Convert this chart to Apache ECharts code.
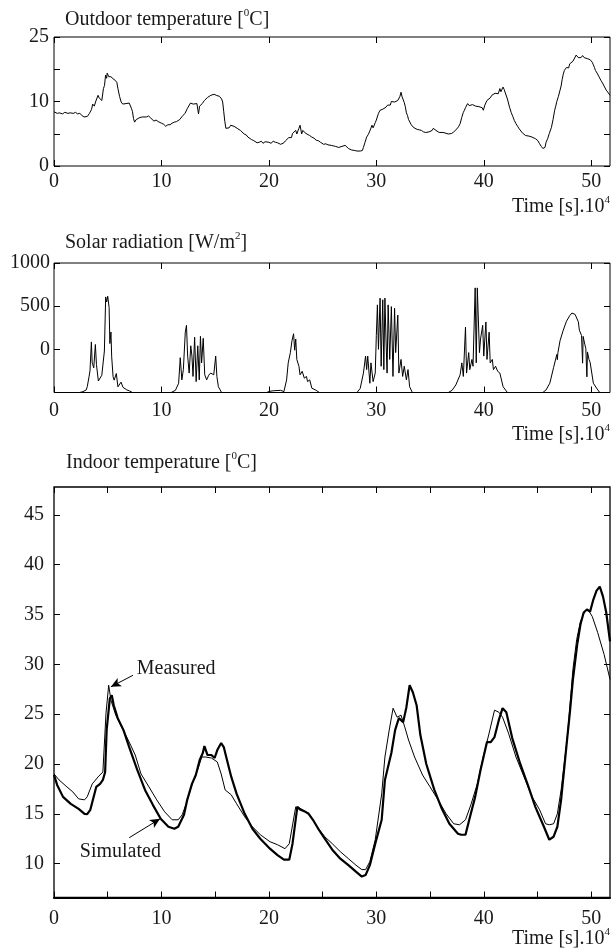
<!DOCTYPE html>
<html><head><meta charset="utf-8">
<script src="https://cdn.jsdelivr.net/npm/echarts@6/dist/echarts.min.js"></script>
<style>html,body{margin:0;padding:0;background:#fff}#c{width:612px;height:952px}</style>
</head><body><div id="c"></div>
<script>
// ---------- data ----------
const xMax = 51.75;
const xLabelValues = [0, 10, 20, 30, 40, 50];
const xTickTop = [0, 10, 20, 30, 40, 50];
const xTickBottom = [0, 5, 10, 15, 20, 25, 30, 35, 40, 45, 50];

const outdoorTickValues = [0, 6.25, 12.5, 18.75, 25];
const outdoorLabelValues = [0, 12.5, 25];
const outdoorLabelText = ['0', '10', '25'];

const solarTickValues = [-500, 0, 500, 1000];
const solarLabelValues = [0, 500, 1000];
const solarLabelText = ['0', '500', '1000'];

const indoorTickValues = [10, 15, 20, 25, 30, 35, 40, 45];

const outdoorTemp = [[0,10.5],[0.3,10.2],[0.5,10.3],[0.8,10.1],[1.0,10.4],[1.3,10.2],[1.5,10.3],[1.8,10.2],[2.0,10.4],[2.2,10.1],[2.4,10.2],[2.6,9.8],[2.8,9.5],[3.1,9.6],[3.3,10.2],[3.5,11.0],[3.6,12.0],[3.75,11.6],[3.9,12.6],[4.1,13.7],[4.2,13.2],[4.3,13.0],[4.45,12.7],[4.6,15.0],[4.7,15.6],[4.8,17.6],[4.9,17.0],[4.95,18.0],[5.1,17.3],[5.2,17.6],[5.3,17.3],[5.4,17.5],[5.5,16.9],[5.7,16.6],[5.85,16.2],[5.95,15.0],[6.1,13.5],[6.25,12.4],[6.4,12.0],[6.5,12.3],[6.7,12.1],[6.85,12.4],[7.0,12.2],[7.2,11.2],[7.3,10.6],[7.4,9.2],[7.5,8.5],[7.65,9.0],[7.8,8.9],[8.0,9.4],[8.1,9.6],[8.25,9.5],[8.4,9.8],[8.6,9.5],[8.8,9.7],[9.0,9.3],[9.1,9.4],[9.3,8.7],[9.5,8.9],[9.7,8.6],[9.85,8.7],[10.0,8.3],[10.2,8.1],[10.4,7.7],[10.6,8.0],[10.8,8.0],[11.0,8.3],[11.2,8.5],[11.4,8.6],[11.7,9.0],[11.85,9.1],[12.0,9.8],[12.2,10.2],[12.4,11.1],[12.55,11.3],[12.7,12.2],[12.8,12.4],[12.95,12.0],[13.1,12.3],[13.3,12.1],[13.45,10.1],[13.55,11.6],[13.6,11.8],[13.8,12.1],[14.0,12.7],[14.15,12.9],[14.3,13.3],[14.45,13.4],[14.6,13.7],[14.75,13.6],[14.9,13.9],[15.1,13.7],[15.25,13.8],[15.4,13.5],[15.6,13.0],[15.7,12.4],[15.8,10.5],[15.9,8.6],[16.0,7.3],[16.15,7.6],[16.3,7.4],[16.45,7.9],[16.6,7.8],[16.75,7.7],[16.9,7.5],[17.05,7.3],[17.2,7.0],[17.35,6.9],[17.5,6.6],[17.7,6.2],[17.9,6.0],[18.05,5.6],[18.2,5.3],[18.4,5.1],[18.6,4.9],[18.75,4.7],[18.9,4.5],[19.1,4.6],[19.3,4.8],[19.45,4.4],[19.65,4.7],[19.8,4.5],[20.0,4.6],[20.2,4.4],[20.4,4.8],[20.6,4.6],[20.8,4.5],[20.95,4.3],[21.1,4.2],[21.25,4.4],[21.4,4.5],[21.55,4.9],[21.7,5.0],[21.85,5.5],[22.0,5.8],[22.1,5.5],[22.2,6.3],[22.35,6.0],[22.5,6.9],[22.6,6.2],[22.7,6.8],[22.8,7.3],[22.9,7.9],[23.0,6.8],[23.05,6.2],[23.15,6.9],[23.3,6.6],[23.45,6.3],[23.6,6.0],[23.8,5.9],[24.0,5.6],[24.2,5.4],[24.4,5.0],[24.6,4.9],[24.8,4.6],[24.95,4.5],[25.1,4.2],[25.3,4.3],[25.5,4.1],[25.65,4.2],[25.8,4.0],[26.0,3.9],[26.2,3.8],[26.35,3.7],[26.5,3.6],[26.65,3.7],[26.8,3.8],[26.95,3.6],[27.1,4.0],[27.25,3.7],[27.4,3.4],[27.55,3.3],[27.7,3.1],[27.85,3.2],[28.0,3.0],[28.2,2.9],[28.35,2.8],[28.5,2.9],[28.6,3.1],[28.7,3.0],[28.8,3.6],[28.95,4.6],[29.1,5.6],[29.25,6.1],[29.4,6.8],[29.5,6.5],[29.6,7.9],[29.7,7.4],[29.8,7.6],[29.9,8.4],[30.0,8.9],[30.2,10.2],[30.35,10.8],[30.5,10.6],[30.6,11.0],[30.75,11.1],[30.9,11.4],[31.05,11.8],[31.2,12.0],[31.3,11.8],[31.4,12.5],[31.55,12.2],[31.7,12.4],[31.85,12.3],[32.0,12.7],[32.1,13.0],[32.2,13.5],[32.3,14.3],[32.4,13.4],[32.5,13.1],[32.6,12.3],[32.7,11.5],[32.8,10.3],[32.9,9.8],[33.0,9.0],[33.1,8.8],[33.25,8.0],[33.4,7.6],[33.6,7.3],[33.8,7.1],[34.0,7.0],[34.2,6.9],[34.4,6.6],[34.6,6.5],[34.75,6.7],[34.9,6.6],[35.05,6.8],[35.2,6.9],[35.3,7.3],[35.4,7.2],[35.55,6.9],[35.7,6.8],[35.85,6.5],[36.0,6.3],[36.2,6.5],[36.4,6.4],[36.55,6.1],[36.7,6.2],[36.85,6.4],[37.0,6.3],[37.1,6.5],[37.2,6.6],[37.35,6.9],[37.5,7.2],[37.65,7.6],[37.8,8.2],[37.95,9.4],[38.1,10.4],[38.2,10.8],[38.3,11.3],[38.4,11.0],[38.5,12.1],[38.65,11.7],[38.8,11.5],[38.95,11.9],[39.1,12.0],[39.25,11.6],[39.4,11.9],[39.55,11.5],[39.7,11.2],[39.85,11.3],[39.96,10.8],[40.1,11.8],[40.3,12.7],[40.45,12.9],[40.6,13.2],[40.75,13.7],[40.9,14.0],[41.05,14.1],[41.2,14.2],[41.35,14.0],[41.5,15.0],[41.6,14.4],[41.7,14.9],[41.8,15.3],[41.9,14.8],[42.0,14.5],[42.2,13.0],[42.4,11.4],[42.55,10.4],[42.7,9.6],[42.85,8.8],[43.0,8.2],[43.15,7.7],[43.3,7.2],[43.45,6.9],[43.6,6.4],[43.75,6.2],[43.9,5.9],[44.05,6.0],[44.2,5.8],[44.35,5.6],[44.5,5.6],[44.65,5.4],[44.8,5.3],[44.9,5.4],[45.0,5.0],[45.1,4.7],[45.2,4.3],[45.35,3.8],[45.5,3.4],[45.6,3.5],[45.7,3.6],[45.8,4.6],[45.95,5.3],[46.1,6.3],[46.2,6.6],[46.3,7.5],[46.45,9.0],[46.6,10.8],[46.7,11.6],[46.8,12.5],[46.95,13.5],[47.1,14.7],[47.2,15.5],[47.3,16.8],[47.4,17.8],[47.5,18.5],[47.6,18.4],[47.7,19.1],[47.8,19.3],[47.9,19.0],[48.0,19.8],[48.15,19.9],[48.3,20.3],[48.45,20.6],[48.6,21.5],[48.7,21.8],[48.8,21.0],[48.9,21.2],[49.05,21.0],[49.2,21.4],[49.35,21.0],[49.5,21.1],[49.65,20.8],[49.8,20.9],[49.9,20.6],[50.0,20.5],[50.1,20.1],[50.2,19.6],[50.3,19.1],[50.4,18.5],[50.55,18.0],[50.7,17.4],[50.8,17.1],[50.9,16.6],[51.05,16.1],[51.2,15.5],[51.3,15.2],[51.4,14.7],[51.55,14.3],[51.75,13.7]];

const solarRad = [[0,-500],[2.4,-500],[2.7,-490],[3.0,-470],[3.1,-430],[3.26,-319],[3.35,-250],[3.48,86],[3.55,-150],[3.6,-175],[3.7,-214],[3.85,56],[3.95,-175],[4.13,-367],[4.25,-387],[4.45,-300],[4.57,-290],[4.69,-20],[4.81,607],[4.9,549],[5.0,615],[5.13,484],[5.2,67],[5.3,200],[5.37,-87],[5.5,-318],[5.6,-357],[5.8,-280],[5.95,-434],[6.06,-420],[6.24,-380],[6.42,-440],[6.6,-430],[6.78,-470],[7.0,-480],[7.3,-500],
[10.9,-500],[11.3,-475],[11.6,-393],[11.75,-97],[11.9,-354],[12.04,-235],[12.22,199],[12.33,278],[12.44,-78],[12.58,-275],[12.73,41],[12.84,-78],[12.94,-314],[13.09,140],[13.23,-374],[13.38,41],[13.52,-354],[13.63,151],[13.74,-157],[13.89,128],[14.03,-295],[14.21,-354],[14.4,-300],[14.58,-275],[14.87,-295],[15.05,-78],[15.16,-314],[15.3,-433],[15.6,-500],
[19.8,-500],[20.0,-488],[20.4,-480],[21.1,-475],[21.4,-490],[21.65,-354],[21.8,-157],[22.0,-38],[22.15,100],[22.3,180],[22.4,-10],[22.5,120],[22.6,-117],[22.8,-197],[22.9,-295],[23.1,-255],[23.3,-334],[23.5,-314],[23.6,-374],[23.8,-354],[24.0,-450],[24.4,-475],[24.7,-500],
[28.2,-500],[28.5,-453],[28.8,-275],[29.0,-78],[29.1,-235],[29.2,-78],[29.4,-393],[29.5,-157],[29.7,-374],[29.9,-275],[30.0,159],[30.1,515],[30.2,0],[30.35,593],[30.45,-196],[30.6,574],[30.7,-235],[30.8,593],[30.9,120],[31.0,-275],[31.1,515],[31.25,-117],[31.4,495],[31.55,-314],[31.7,475],[31.8,-38],[32.0,396],[32.1,-275],[32.3,-117],[32.45,-314],[32.6,-196],[32.8,-354],[32.95,-235],[33.1,-433],[33.35,-500],
[36.7,-500],[37.05,-475],[37.4,-413],[37.8,-295],[37.96,-157],[38.1,-314],[38.3,258],[38.4,-275],[38.6,-38],[38.7,-235],[38.9,-117],[39.0,-196],[39.2,712],[39.3,-157],[39.4,712],[39.6,-38],[39.7,120],[39.9,278],[40.0,-78],[40.2,317],[40.3,-117],[40.5,199],[40.6,-157],[40.8,-117],[40.9,-235],[41.1,-196],[41.3,-255],[41.5,-275],[41.8,-433],[42.2,-500],
[45.5,-500],[45.8,-470],[46.15,-392],[46.5,-210],[46.8,-60],[46.85,-120],[46.9,-40],[47.1,100],[47.4,222],[47.7,326],[48.0,390],[48.2,420],[48.5,405],[48.8,320],[48.9,222],[49.1,160],[49.2,-160],[49.25,150],[49.4,60],[49.5,10],[49.6,-319],[49.65,-30],[49.8,-120],[49.9,-150],[50.2,-392],[50.5,-450],[50.8,-500],[51.75,-500]];

const indoorSimulated = [[0,18.9],[0.29,17.9],[0.84,16.7],[1.56,16.0],[2.29,15.5],[2.84,15.0],[3.09,14.97],[3.38,15.4],[3.93,17.7],[4.29,18.0],[4.55,18.4],[4.76,19.2],[4.9,23.4],[5.2,26.6],[5.38,26.9],[5.56,25.9],[5.93,24.6],[6.47,23.4],[7.0,21.7],[7.75,19.4],[8.47,17.4],[9.2,15.9],[9.93,14.5],[10.65,13.7],[11.2,13.5],[11.56,13.7],[12.1,14.9],[12.4,16.4],[12.84,18.0],[13.2,18.9],[13.56,20.4],[13.85,21.1],[14.0,21.8],[14.29,20.9],[14.65,20.9],[14.95,20.6],[15.2,21.4],[15.56,22.1],[15.8,21.7],[16.1,20.4],[16.5,18.7],[17.0,17.0],[17.75,15.0],[18.47,13.5],[19.2,12.5],[20.1,11.5],[20.8,10.85],[21.4,10.4],[21.9,10.4],[22.2,12.0],[22.65,15.7],[22.95,15.4],[23.4,15.2],[23.7,15.0],[24.1,14.4],[24.65,13.4],[25.2,12.5],[25.9,11.4],[26.65,10.5],[27.4,9.85],[28.1,9.2],[28.65,8.7],[29.0,8.85],[29.4,9.85],[29.9,12.0],[30.5,14.4],[30.8,18.4],[31.4,21.1],[31.75,23.4],[32.1,24.6],[32.5,24.2],[32.8,25.7],[33.1,27.9],[33.4,27.2],[33.75,25.9],[34.1,22.9],[34.65,20.0],[35.4,17.4],[36.1,15.5],[36.8,14.0],[37.6,13.0],[37.9,12.9],[38.3,12.9],[38.65,14.4],[39.2,16.7],[39.7,19.4],[40.3,22.2],[40.65,22.2],[41.0,22.7],[41.4,24.4],[41.75,25.6],[42.1,25.2],[42.65,22.6],[43.4,20.0],[44.1,17.9],[44.8,15.7],[45.6,13.7],[46.1,12.4],[46.5,12.7],[46.85,13.7],[47.2,16.4],[47.75,22.4],[48.0,25.0],[48.3,28.5],[48.7,32.0],[49.0,34.0],[49.3,35.2],[49.6,35.5],[49.9,35.3],[50.2,36.5],[50.5,37.4],[50.8,37.8],[51.1,36.8],[51.4,35.2],[51.75,32.3]];

const indoorMeasured = [[0,19.0],[0.47,18.4],[1.2,17.7],[1.75,17.2],[2.29,16.5],[2.84,16.4],[3.09,16.7],[3.56,18.0],[4.1,18.7],[4.55,19.2],[4.84,25.1],[5.09,27.9],[5.3,26.4],[5.75,24.9],[6.3,23.7],[7.0,22.2],[7.56,20.9],[8.1,19.0],[8.84,17.7],[9.56,16.4],[10.3,15.2],[11.0,14.4],[11.56,14.4],[11.93,14.9],[12.3,16.0],[12.84,17.9],[13.4,19.5],[13.75,20.7],[14.1,20.7],[14.65,20.6],[15.2,20.2],[15.56,19.0],[15.93,17.4],[16.5,16.9],[17.0,16.0],[17.75,14.7],[18.47,13.7],[19.2,12.9],[20.1,12.2],[20.8,11.9],[21.5,11.5],[21.9,12.0],[22.5,15.7],[23.0,15.5],[23.75,15.0],[24.5,13.7],[25.2,12.7],[25.9,12.0],[26.65,11.2],[27.4,10.5],[28.1,9.85],[28.65,9.4],[29.0,9.4],[29.4,10.2],[29.9,12.4],[30.5,17.0],[30.8,20.7],[31.2,23.4],[31.56,25.6],[31.93,24.7],[32.3,24.9],[32.65,23.7],[33.0,22.4],[33.56,20.7],[34.3,18.9],[35.0,17.7],[35.75,16.4],[36.5,15.0],[37.2,14.0],[37.75,13.9],[38.3,14.4],[38.8,15.9],[39.4,18.0],[39.95,20.7],[40.5,23.1],[41.0,25.4],[41.4,25.2],[41.75,24.7],[42.3,23.1],[43.0,20.7],[43.75,18.7],[44.5,16.7],[45.2,15.4],[45.75,14.0],[46.1,13.9],[46.5,14.0],[46.85,15.0],[47.2,17.4],[47.75,22.4],[48.0,25.5],[48.3,29.5],[48.65,32.5],[49.0,34.3],[49.4,35.3],[49.7,35.5],[50.1,34.8],[50.6,33.2],[51.2,31.0],[51.75,28.5]];

// annotations (data coordinates): label anchor, arrow start, arrow tip
const notes = [
  {text: 'Measured', at: [7.7, 29.6], from: [7.35, 28.9], to: [5.3, 27.75]},
  {text: 'Simulated', at: [2.4, 11.2], from: [7.0, 12.6], to: [9.87, 14.5]}
];

// ---------- chart ----------
const FONT = 'Liberation Serif';
const TXT = '#1a1a1a';
const chart = echarts.init(document.getElementById('c'), null, {renderer: 'canvas'});

const grids = [
  {left: 54, right: 2, top: 37, height: 129},
  {left: 54, right: 2, top: 263, height: 129.5},
  {left: 54, right: 2, top: 487, height: 410.5}
];
const labelMarginX = [6, 8, 11];
const labelMarginY = [5, 4, 10];

function tick(values) {
  return {show: true, inside: true, length: 6, customValues: values, lineStyle: {color: '#000', width: 1}};
}
const xAxes = [], yAxes = [];
grids.forEach((g, i) => {
  const xt = i === 2 ? xTickBottom : xTickTop;
  xAxes.push({gridIndex: i, type: 'value', min: 0, max: xMax, position: 'bottom',
    axisLine: {show: i === 2, onZero: false, lineStyle: {color: '#000', width: 2}},
    axisTick: tick(xt), splitLine: {show: false},
    axisLabel: {show: true, customValues: xLabelValues, margin: labelMarginX[i], fontFamily: FONT, fontSize: 20, color: TXT}});
  xAxes.push({gridIndex: i, type: 'value', min: 0, max: xMax, position: 'top',
    axisLine: {show: false, onZero: false}, axisTick: tick(xt), splitLine: {show: false}, axisLabel: {show: false}});
});
const yDefs = [
  {min: 0, max: 25, ticks: outdoorTickValues, labels: outdoorLabelValues, fmt: v => outdoorLabelText[outdoorLabelValues.indexOf(v)]},
  {min: -500, max: 1000, ticks: solarTickValues, labels: solarLabelValues, fmt: v => solarLabelText[solarLabelValues.indexOf(v)]},
  {min: 6.6, max: 47.8, ticks: indoorTickValues, labels: indoorTickValues, fmt: v => String(v)}
];
yDefs.forEach((d, i) => {
  yAxes.push({gridIndex: i, type: 'value', min: d.min, max: d.max, position: 'left',
    axisLine: {show: false, onZero: false}, axisTick: tick(d.ticks), splitLine: {show: false},
    axisLabel: {show: true, customValues: d.labels, formatter: d.fmt, margin: labelMarginY[i], fontFamily: FONT, fontSize: 20, color: TXT}});
  yAxes.push({gridIndex: i, type: 'value', min: d.min, max: d.max, position: 'right',
    axisLine: {show: false, onZero: false}, axisTick: tick(d.ticks), splitLine: {show: false}, axisLabel: {show: false}});
});

const richA = {fontFamily: FONT, fontSize: 20, lineHeight: 24, fill: TXT, color: TXT};
const richS = {fontFamily: FONT, fontSize: 11, lineHeight: 11, verticalAlign: 'top', fill: TXT, color: TXT};
function label(text, x, y, align) {
  return {type: 'text', x: x, y: y, silent: true,
    style: {text: text, align: align || 'left', verticalAlign: 'middle', rich: {a: richA, s: richS}, fill: TXT}};
}

const lineBase = {type: 'line', showSymbol: false, symbol: 'none', animation: false, smooth: false, sampling: null};

chart.setOption({
  animation: false,
  backgroundColor: '#fff',
  grid: grids.map((g, i) => Object.assign({show: true, borderColor: '#000', borderWidth: i === 2 ? 1.3 : 1, backgroundColor: 'transparent'}, g)),
  xAxis: xAxes,
  yAxis: yAxes,
  series: [
    Object.assign({}, lineBase, {name: 'Outdoor temperature', xAxisIndex: 0, yAxisIndex: 0, data: outdoorTemp, lineStyle: {color: '#000', width: 1}}),
    Object.assign({}, lineBase, {name: 'Solar radiation', xAxisIndex: 2, yAxisIndex: 2, data: solarRad, lineStyle: {color: '#000', width: 1}}),
    Object.assign({}, lineBase, {name: 'Measured', xAxisIndex: 4, yAxisIndex: 4, data: indoorMeasured, lineStyle: {color: '#000', width: 1}}),
    Object.assign({}, lineBase, {name: 'Simulated', xAxisIndex: 4, yAxisIndex: 4, data: indoorSimulated, lineStyle: {color: '#000', width: 2.2},
      markLine: {silent: true, animation: false, symbol: ['none', 'arrow'], symbolSize: [7, 10],
        lineStyle: {color: '#000', width: 1, type: 'solid'}, label: {show: false},
        data: notes.map(n => [{coord: n.from}, {coord: n.to}])}})
  ]
});

const noteGraphics = notes.map(n => {
  const p = chart.convertToPixel({xAxisIndex: 4, yAxisIndex: 4}, n.at);
  return label('{a|' + n.text + '}', p[0], p[1], 'left');
});

chart.setOption({
  graphic: [
    label('{a|Outdoor temperature [}{s|0}{a|C]}', 65, 20),
    label('{a|Time [s].10}{s|4}', 610, 207, 'right'),
    label('{a|Solar radiation [W/m}{s|2}{a|]}', 65, 243),
    label('{a|Time [s].10}{s|4}', 610, 435, 'right'),
    label('{a|Indoor temperature [}{s|0}{a|C]}', 66, 463),
    label('{a|Time [s].10}{s|4}', 610, 939, 'right')
  ].concat(noteGraphics)
});
</script></body></html>
